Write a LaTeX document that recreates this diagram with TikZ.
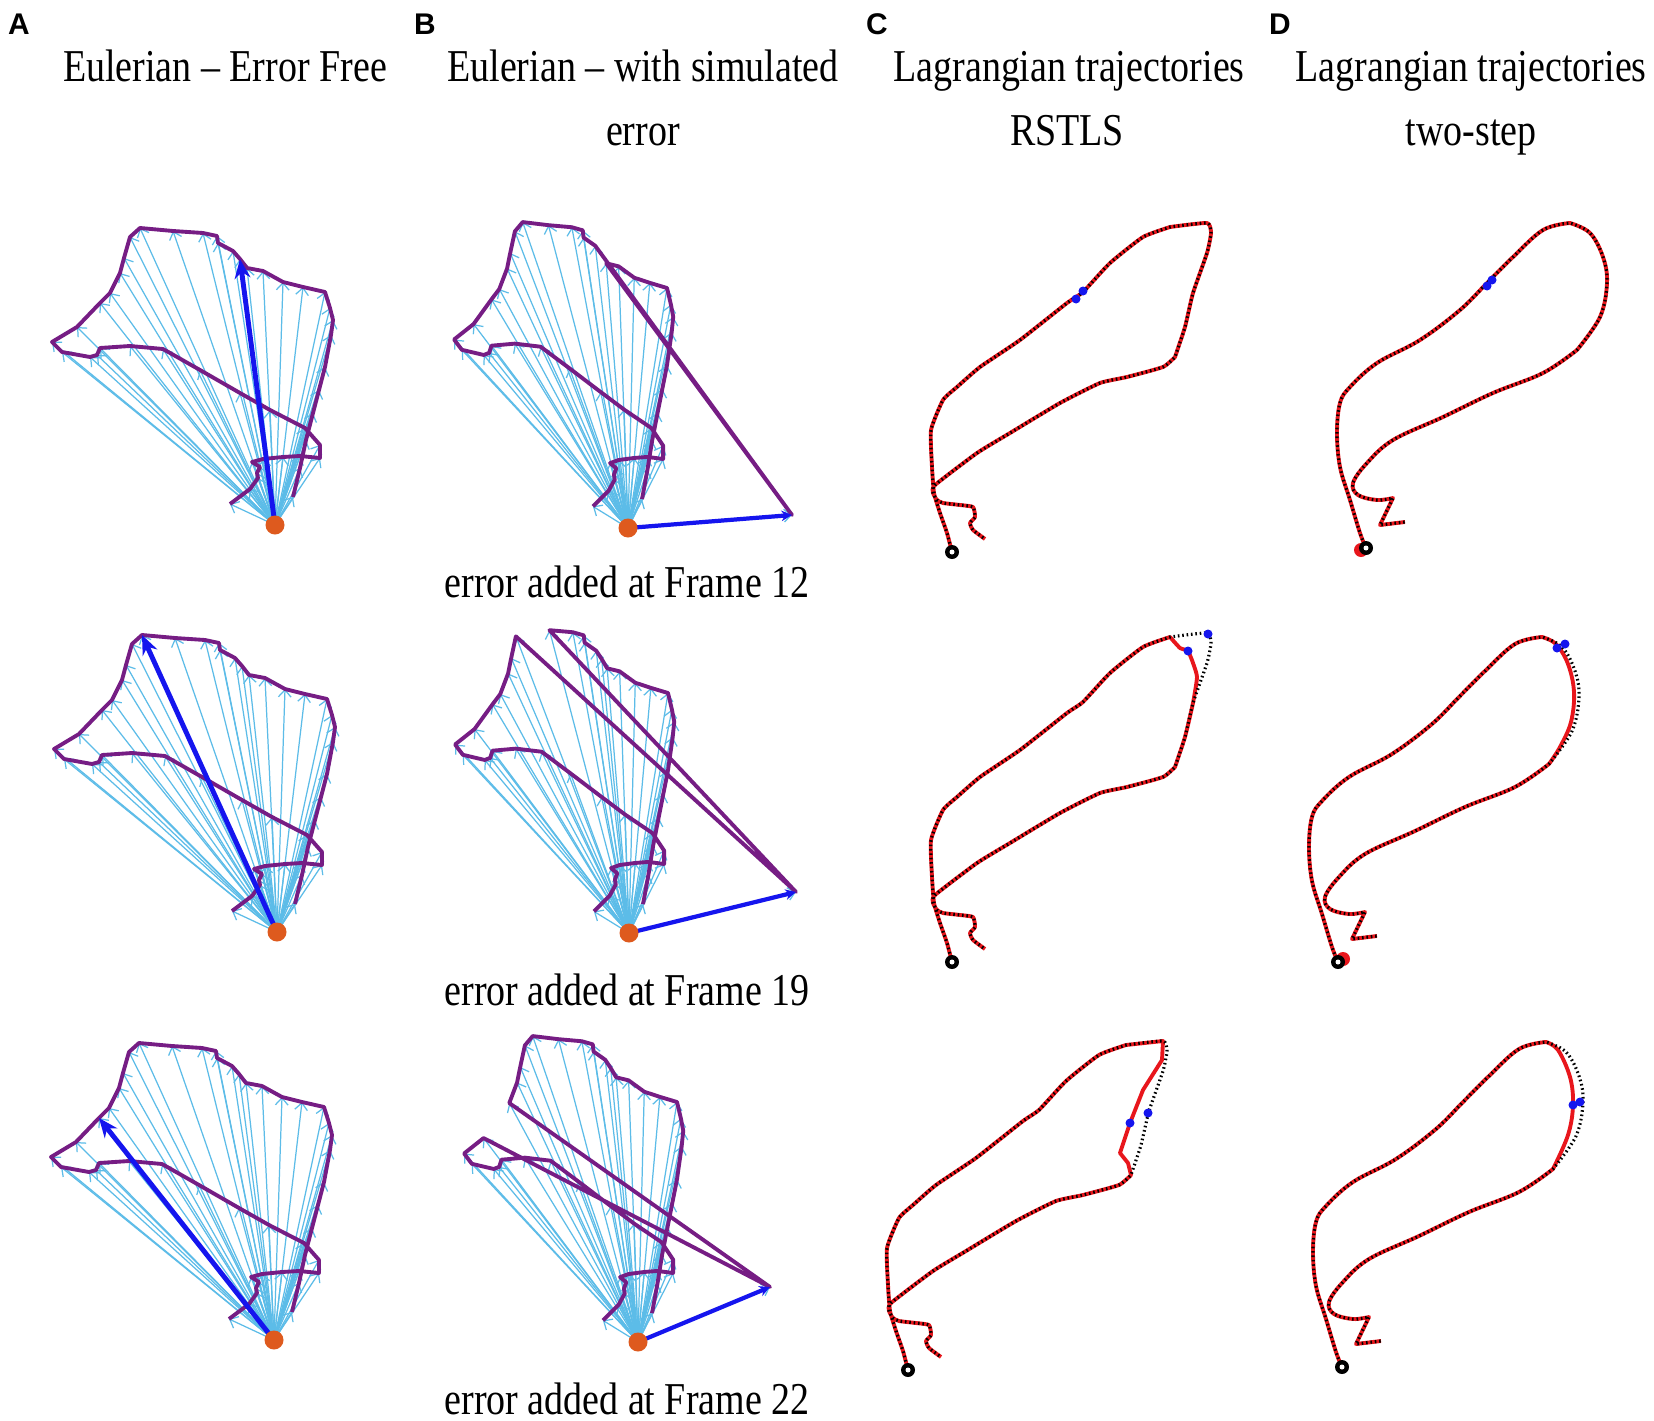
\documentclass[tikz,border=0pt]{standalone}
\usepackage{fontspec}
\setmainfont{Liberation Serif}
\newfontfamily\panelfont{Liberation Sans}
\usepackage{graphicx}
\usetikzlibrary{arrows.meta}
\definecolor{FANBLUE}{HTML}{5CBCE8}
\definecolor{TRAJPURPLE}{HTML}{761D84}
\definecolor{ROOTORANGE}{HTML}{DE5A1E}
\definecolor{VECBLUE}{HTML}{1515EE}
\definecolor{ESTRED}{HTML}{E8161C}
\tikzset{
    fan/.style={FANBLUE, line width=0.35pt, -{Straight Barb[length=2pt,width=3.6pt]}},
    outline/.style={TRAJPURPLE, line width=1.1pt, line join=round},
    hilite/.style={VECBLUE, line width=1.4pt, -{Stealth[length=5.5pt,width=4.5pt]}},
    errvec/.style={VECBLUE, line width=1.2pt, -{Stealth[length=3pt,width=3pt]}},
    est/.style={ESTRED, line width=1.1pt, line join=round},
    truth/.style={black, line width=0.9pt, dash pattern=on 0.45pt off 0.8pt},
    title/.style={font=\fontsize{10.8}{13}\selectfont, inner sep=0pt, anchor=base},
    panel/.style={font=\fontsize{8.5}{10}\selectfont\panelfont\bfseries, inner sep=0pt},
}
\newcommand\tall[1]{\scalebox{1}[1.2]{#1}}
% Eulerian frames, relative to the root
\def\fanpts{18/-28, 25/-57, 31/-85, 38/-112, 44/-135, 50/-158, 56/-190, 58/-205, 55/-217, 50/-233,
    28/-238, 8/-243, -12/-254, -28/-257, -35/-266, -42/-274, -57/-282, -58/-289, -72/-292, -102/-294,
    -135/-297, -145/-288, -151/-267, -155/-252, -165/-232, -175/-222, -198/-198, -223/-183, -213/-173, -185/-168,
    -178/-170, -175/-177, -145/-179, -112/-176, -75/-155, -35/-132, -5/-115, 30/-97, 45/-80, 45/-67,
    25/-69, 8/-68, -12/-66, -23/-63, -15/-58, -18/-52, -17/-47, -25/-36, -45/-21}
% RSTLS trajectory, relative to the start ring
\def\cHead{plot[smooth,tension=0.3] coordinates {(0,0) (-5,-19) (-12,-39) (-18,-59) (-20,-85) (-21,-122) (-9,-152) (5,-165) (28,-185) (68,-212) (115,-249) (131,-260) (158,-289) (191,-315) (218,-325)}}
\def\cTop{-- plot[smooth,tension=0.3] coordinates {(218,-325) (255,-329) (259,-319) (255,-299) (241,-259) (233,-225) (223,-195)}}
\def\cTopB{-- plot[smooth,tension=0.3] coordinates {(218,-325) (228,-314) (236,-311) (241,-299) (245,-285) (241,-259) (233,-225) (223,-195)}}
\def\cTopC{-- plot coordinates {(218,-325) (255,-329) (254,-310) (235,-280) (222,-247) (212,-217) (220,-207) (223,-195)}}
\def\cTail{-- plot[smooth,tension=0.3] coordinates {(223,-195) (211,-185) (175,-175) (148,-169) (108,-149) (58,-119) (25,-99) (-17,-67) (-19,-59) (-15,-52) (-9,-49) (8,-47) (21,-45) (23,-35) (18,-29) (21,-22) (33,-13)}}
% two-step trajectory, relative to the start ring
\def\dHead{plot[smooth,tension=0.6] coordinates {(0,0) (-6,-15) (-16,-48) (-26,-81) (-29,-115) (-26,-145) (-16,-161) (11,-185) (54,-208) (94,-238) (121,-265) (147,-291) (177,-318) (204,-325)}}
\def\dTop{-- plot[smooth,tension=0.6] coordinates {(204,-325) (224,-315) (237,-291) (241,-265) (234,-231) (211,-198)}}
\def\dTopB{-- plot[smooth,tension=0.6] coordinates {(204,-325) (218,-318) (230,-298) (236,-270) (233,-240) (222,-215) (211,-198)}}
\def\dTopC{-- plot[smooth,tension=0.6] coordinates {(204,-325) (216,-317) (228,-290) (231,-262) (226,-232) (211,-198)}}
\def\dTail{-- plot[smooth,tension=0.6] coordinates {(211,-198) (177,-175) (127,-155) (77,-131) (27,-108) (1,-85) (-13,-65) (-8,-53) (11,-48) (27,-50)} -- (14,-23) -- (39,-26)}

\begin{document}
\begin{tikzpicture}[x=0.01cm, y=-0.01cm]
    \useasboundingbox (0,0) rectangle (1654,1421);
    \fill[white] (0,0) rectangle (1654,1421);

    \node[panel] (lblA) at (19,24) {A};
    \node[panel] (lblB) at (425,24) {B};
    \node[panel] (lblC) at (877,24) {C};
    \node[panel] (lblD) at (1280,24) {D};
    \node[title] (ttlA) at (225,81) {\tall{Eulerian -- Error Free}};
    \node[title] (ttlB) at (643,81) {\tall{Eulerian -- with simulated}};
    \node[title] (ttlB2) at (643,145) {\tall{error}};
    \node[title] (ttlC) at (1069,81) {\tall{Lagrangian trajectories}};
    \node[title] (ttlC2) at (1067,145) {\tall{RSTLS}};
    \node[title] (ttlD) at (1471,81) {\tall{Lagrangian trajectories}};
    \node[title] (ttlD2) at (1471,145) {\tall{two-step}};
    \node[title] (cap12) at (627,597) {\tall{error added at Frame 12}};
    \node[title] (cap19) at (627,1005) {\tall{error added at Frame 19}};
    \node[title] (cap22) at (627,1414) {\tall{error added at Frame 22}};

    % Eulerian panels A and B
    \foreach \r/\ax/\ay/\bx/\by/\k/\ex/\ey in {1/275/525/628/528/15/164/-13, 2/277/932/629/933/21/167/-41, 3/274/1340/638/1342/26/132/-55}{
        \coordinate (a\r-root) at (\ax,\ay);
        \coordinate (b\r-root) at (\bx,\by);
        \begin{scope}[shift={(a\r-root)}]
            \foreach \x/\y [count=\i] in \fanpts {\coordinate (a\r-\i) at (\x,\y);}
        \end{scope}
        \begin{scope}[shift={(b\r-root)}, xscale=0.78, yscale=1.03]
            \foreach \x/\y [count=\i] in \fanpts {\coordinate (b\r-\i) at (\x,\y);}
        \end{scope}
        \path (b\r-root) ++(\ex,\ey) coordinate (b\r-\k); % simulated error
        \foreach \i in {1,...,49}{
            \draw[fan] (a\r-root) -- (a\r-\i);
            \draw[fan] (b\r-root) -- (b\r-\i);
        }
        \draw[outline] (a\r-1) \foreach \i in {2,...,49}{-- (a\r-\i)};
        \draw[outline] (b\r-1) \foreach \i in {2,...,49}{-- (b\r-\i)};
        \draw[hilite] (a\r-root) -- (a\r-\k);
        \draw[errvec] (b\r-root) -- (b\r-\k);
        \fill[ROOTORANGE] (a\r-root) circle (9.5);
        \fill[ROOTORANGE] (b\r-root) circle (9.5);
    }

    % Lagrangian panel C
    \begin{scope}[shift={(952,552)}]
        \draw[est] \cHead \cTop \cTail;
        \draw[truth] \cHead \cTop \cTail;
        \fill[VECBLUE] (124,-253) circle (4.5) (131,-261) circle (4.5);
        \fill (0,0) circle (7); \fill[white] (0,0) circle (2.5);
    \end{scope}
    \begin{scope}[shift={(952,962)}]
        \draw[est] \cHead \cTopB \cTail;
        \draw[truth] \cHead \cTop \cTail;
        \fill[VECBLUE] (236,-311) circle (4.5) (256,-328) circle (4.5);
        \fill (0,0) circle (7); \fill[white] (0,0) circle (2.5);
    \end{scope}
    \begin{scope}[shift={(908,1370)}]
        \draw[est] \cHead \cTopC \cTail;
        \draw[truth] \cHead \cTop \cTail;
        \fill[VECBLUE] (222,-247) circle (4.5) (240,-257) circle (4.5);
        \fill (0,0) circle (7); \fill[white] (0,0) circle (2.5);
    \end{scope}

    % Lagrangian panel D
    \begin{scope}[shift={(1366,548)}]
        \draw[est] \dHead \dTop \dTail;
        \draw[truth] \dHead \dTop \dTail;
        \fill[VECBLUE] (121,-262) circle (4.5) (126,-268) circle (4.5);
        \fill[ESTRED] (-5,2) circle (7);
        \fill (0,0) circle (7); \fill[white] (0,0) circle (2.5);
    \end{scope}
    \begin{scope}[shift={(1338,962)}]
        \draw[est] \dHead \dTopB \dTail;
        \draw[truth] \dHead \dTop \dTail;
        \fill[VECBLUE] (219,-314) circle (4.5) (227,-318) circle (4.5);
        \fill[ESTRED] (5,-3) circle (7);
        \fill (0,0) circle (7); \fill[white] (0,0) circle (2.5);
    \end{scope}
    \begin{scope}[shift={(1342,1367)}]
        \draw[est] \dHead \dTopC \dTail;
        \draw[truth] \dHead \dTop \dTail;
        \fill[VECBLUE] (231,-262) circle (4.5) (238,-265) circle (4.5);
        \fill (0,0) circle (7); \fill[white] (0,0) circle (2.5);
    \end{scope}
\end{tikzpicture}
\end{document}
